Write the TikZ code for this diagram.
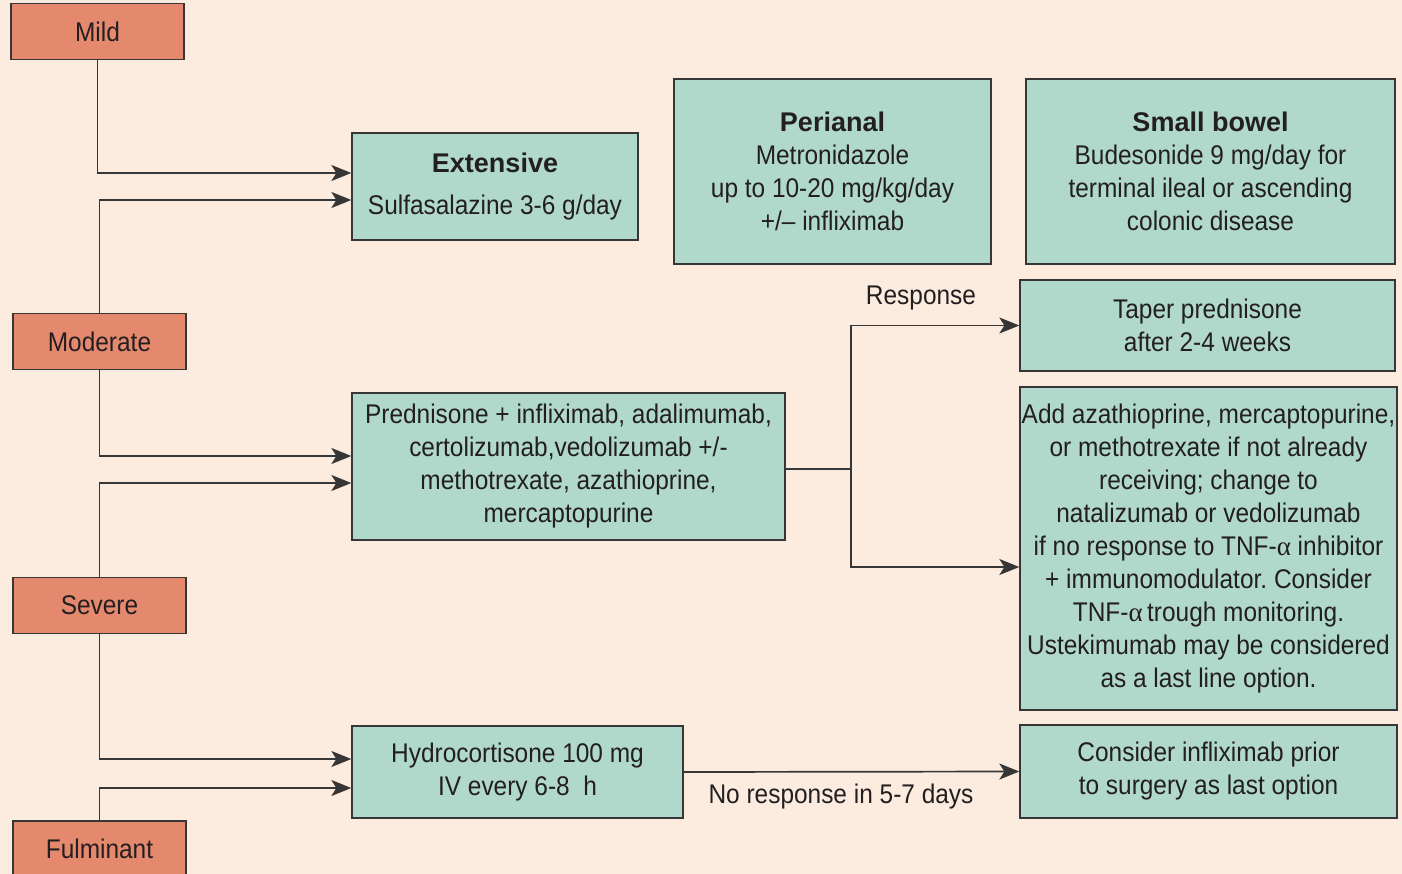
\documentclass[tikz,border=0pt]{standalone}
\usepackage{fontspec}
\setmainfont{Liberation Sans}[FakeStretch=0.905]
\newfontfamily\headfont{Liberation Sans}
\newfontfamily\greekfont{Liberation Serif}
\usetikzlibrary{arrows.meta}
\definecolor{paper}{HTML}{FCEBDF}
\definecolor{salmonfill}{HTML}{E5896E}
\definecolor{tealfill}{HTML}{B0D8CB}
\definecolor{ink}{HTML}{231F20}
\definecolor{rulegray}{HTML}{363636}
\newcommand{\head}[1]{{\headfont\bfseries #1}}
\newcommand{\tnfa}{TNF-{\greekfont α}}
\frenchspacing

\begin{document}
\begin{tikzpicture}[x=1pt, y=-1pt, >={Stealth[length=20pt, width=16pt, inset=5pt]}]
  \tikzset{
    grade/.style={draw=rulegray, line width=1.3pt, fill=salmonfill, text=ink,
      minimum width=173pt, minimum height=56pt, inner sep=0pt,
      font=\fontsize{27}{33}\selectfont},
    therapybox/.style={draw=rulegray, line width=1.3pt, fill=tealfill, text=ink,
      align=center, inner sep=0pt, font=\fontsize{27}{33}\selectfont},
    caption/.style={text=ink, inner sep=0pt, font=\fontsize{27}{33}\selectfont},
    link/.style={draw=rulegray, line width=1.7pt}
  }

  % paper
  \fill[paper] (0,0) rectangle (1402,874);
  \useasboundingbox (0,0) rectangle (1402,874);

  % severity grades
  \node[grade] (mild)      at (97.5,31.5)  {Mild};
  \node[grade] (moderate)  at (99.5,341.5) {Moderate};
  \node[grade] (severe)    at (99.5,605.5) {Severe};
  \node[grade] (fulminant) at (99.5,849)   {Fulminant};

  % therapies
  \node[therapybox, minimum width=286pt, minimum height=107pt] (ext) at (495,186.5)
    {\head{Extensive}\\[9pt] Sulfasalazine 3-6 g/day};
  \node[therapybox, minimum width=317pt, minimum height=185pt] (perianal) at (832.5,171.5)
    {\head{Perianal}\\ Metronidazole\\ up to 10-20 mg/kg/day\\ +/-- infliximab};
  \node[therapybox, minimum width=369pt, minimum height=185pt] (smallbowel) at (1210.5,171.5)
    {\head{Small bowel}\\ Budesonide 9 mg/day for\\ terminal ileal or ascending\\ colonic disease};
  \node[therapybox, minimum width=433pt, minimum height=147pt] (pred) at (568.5,466.5)
    {Prednisone + infliximab, adalimumab,\\ certolizumab,vedolizumab +/-\\ methotrexate, azathioprine,\\ mercaptopurine};
  \node[therapybox, minimum width=375pt, minimum height=91pt] (taper) at (1207.5,325.5)
    {Taper prednisone\\ after 2-4 weeks};
  \node[therapybox, minimum width=377pt, minimum height=323pt] (addaza) at (1208.5,548.5)
    {Add azathioprine, mercaptopurine,\\ or methotrexate if not already\\ receiving; change to\\
     natalizumab or vedolizumab\\ if no response to \tnfa{} inhibitor\\ + immunomodulator. Consider\\
     \tnfa\,trough monitoring.\\ Ustekimumab may be considered\\ as a last line option.};
  \node[therapybox, minimum width=331pt, minimum height=92pt] (hydro) at (517.5,772)
    {Hydrocortisone 100 mg\\ IV every 6-8~ h};
  \node[therapybox, minimum width=377pt, minimum height=93pt] (surgery) at (1208.5,771.5)
    {Consider infliximab prior\\ to surgery as last option};

  % grade to therapy
  \draw[link, ->] (mild.south)      |- ([yshift=13.5pt]ext.west);
  \draw[link, ->] (moderate.north)  |- ([yshift=-13.5pt]ext.west);
  \draw[link, ->] (moderate.south)  |- ([yshift=10.5pt]pred.west);
  \draw[link, ->] (severe.north)    |- ([yshift=-16.5pt]pred.west);
  \draw[link, ->] (severe.south)    |- ([yshift=13pt]hydro.west);
  \draw[link, ->] (fulminant.north) |- ([yshift=-16pt]hydro.west);

  % outcome of prednisone
  \coordinate (split) at (851,469);
  \draw[link] ([yshift=-2.5pt]pred.east) -- (split);
  \draw[link, ->] (split) |- (taper.west);
  \draw[link, ->] (split) |- ([yshift=-18.5pt]addaza.west);
  \node[caption] (response) at (921,298) {Response};

  % outcome of hydrocortisone
  \draw[link, ->] (hydro.east) -- (surgery.west);
  \node[caption] (noresponse) at (841,797) {No response in 5-7 days};
\end{tikzpicture}
\end{document}
